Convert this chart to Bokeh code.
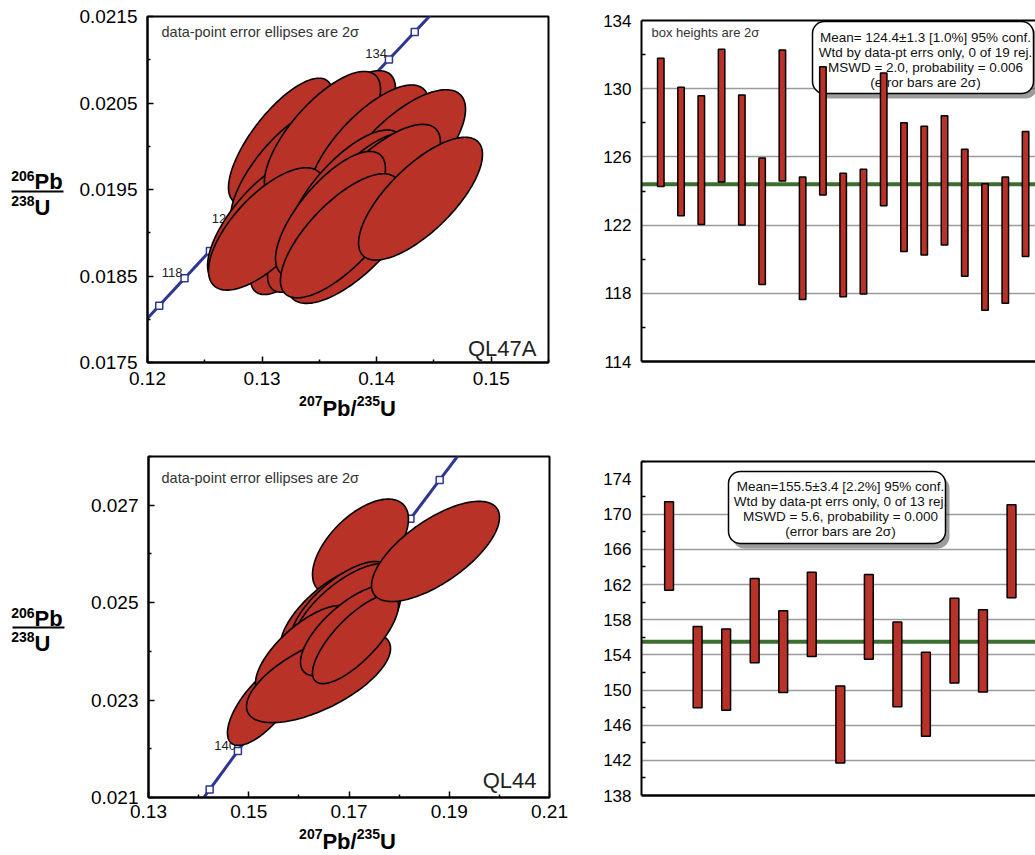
import numpy as np
from bokeh.plotting import figure
from bokeh.models import Range1d, Label, Span, LinearAxis, FixedTicker, PrintfTickFormatter
from bokeh.layouts import column, row
from bokeh.embed import file_html
from bokeh.resources import INLINE
from bokeh.core.properties import value

FONT = "Liberation Sans"
RED = "#b83227"
NAVY = "#2d3792"
GREEN = "#3c6e30"
GRID = "#9b9b9b"

LAMBDA_238 = 1.55125e-4   # 1/Ma
LAMBDA_235 = 9.8485e-4    # 1/Ma
K95 = 2.4477 / 2.0        # 2-sigma box -> 95% conf. 2-D ellipse

# ---------------- QL47A ----------------
ql47a_pb207_u235 = [0.13161, 0.13335, 0.13205, 0.13658, 0.13597, 0.13004, 0.13527, 0.13335, 0.13929, 0.13466,
                    0.13039, 0.14208, 0.13728, 0.13859, 0.14007, 0.13597, 0.13772, 0.13684, 0.14383]
ql47a_pb207_u235_2s = [0.00371, 0.00392, 0.00392, 0.00414, 0.00392, 0.00392, 0.00414, 0.00357, 0.00428, 0.00342,
                       0.00414, 0.00464, 0.00414, 0.00414, 0.00449, 0.00392, 0.00449, 0.00428, 0.00442]
ql47a_pb206_u238 = [0.020060, 0.019787, 0.019710, 0.020121, 0.019708, 0.019141, 0.020122, 0.018982, 0.019979, 0.019014,
                    0.019044, 0.019901, 0.019457, 0.019425, 0.019520, 0.019219, 0.018903, 0.018965, 0.019394]
ql47a_pb206_u238_2s = [0.000594, 0.000596, 0.000597, 0.000615, 0.000604, 0.000588, 0.000607, 0.000569, 0.000596, 0.000573,
                       0.000578, 0.000615, 0.000597, 0.000598, 0.000599, 0.000589, 0.000588, 0.000586, 0.000580]
ql47a_rho = [0.74, 0.72, 0.72, 0.72, 0.72, 0.72, 0.72, 0.72, 0.72, 0.72,
             0.68, 0.70, 0.72, 0.72, 0.72, 0.72, 0.70, 0.72, 0.72]
ql47a_age_hi = [131.78, 130.08, 129.59, 132.31, 129.63, 125.94, 132.27, 124.82, 131.29, 125.04,
                125.27, 130.92, 128.00, 127.80, 128.41, 126.45, 124.43, 124.82, 127.49]
ql47a_age_lo = [124.27, 122.55, 122.04, 124.53, 122.00, 118.51, 124.59, 117.63, 123.76, 117.80,
                117.96, 123.14, 120.45, 120.24, 120.84, 119.00, 117.00, 117.41, 120.16]
ql47a_mean = 124.4
ql47a_marks = [116, 118, 120, 122, 124, 126, 128, 130, 132, 134, 136]
ql47a_mark_labels = [118, 122, 126, 130, 134]
ql47a_box = ["Mean= 124.4\u00b11.3 [1.0%] 95% conf.",
             "Wtd by data-pt errs only, 0 of 19 rej.",
             "MSWD = 2.0, probability = 0.006",
             "(error bars are 2\u03c3)"]
ql47a_xticks = [0.12, 0.13, 0.14, 0.15]
ql47a_xminor = [0.125, 0.135, 0.145, 0.155]
ql47a_yticks = [0.0175, 0.0185, 0.0195, 0.0205, 0.0215]
ql47a_yminor = [0.018, 0.019, 0.020, 0.021]
ql47a_age_ticks = [114, 118, 122, 126, 130, 134]
ql47a_age_minor = [116, 120, 124, 128, 132]

# ---------------- QL44 ----------------
ql44_pb207_u235 = [0.17229, 0.16132, 0.16032, 0.16631, 0.16731, 0.16830, 0.15294, 0.16930, 0.16132, 0.16392,
                   0.17030, 0.17130, 0.18726]
ql44_pb207_u235_2s = [0.00782, 0.00734, 0.00734, 0.00815, 0.00815, 0.00815, 0.00587, 0.00848, 0.00815, 0.01174,
                      0.00815, 0.00701, 0.01043]
ql44_pb206_u238 = [0.026146, 0.023956, 0.023910, 0.024795, 0.024237, 0.024910, 0.022920, 0.024864, 0.024006, 0.023465,
                   0.024435, 0.024250, 0.026052]
ql44_pb206_u238_2s = [0.000801, 0.000736, 0.000732, 0.000763, 0.000739, 0.000763, 0.000695, 0.000767, 0.000766, 0.000759,
                      0.000766, 0.000745, 0.000840]
ql44_rho = [0.58, 0.70, 0.70, 0.70, 0.70, 0.70, 0.70, 0.70, 0.70, 0.64, 0.70, 0.76, 0.68]
ql44_age_hi = [171.41, 157.24, 156.93, 162.69, 159.03, 163.41, 150.46, 163.14, 157.73, 154.30, 160.44, 159.14, 171.07]
ql44_age_lo = [161.35, 147.98, 147.71, 153.09, 149.73, 153.81, 141.70, 153.50, 148.10, 144.74, 150.80, 149.77, 160.51]
ql44_mean = 155.5
ql44_marks = [135, 140, 145, 150, 155, 160, 165, 170, 175]
ql44_mark_labels = [140, 150, 160, 170]
ql44_box = ["Mean=155.5\u00b13.4 [2.2%] 95% conf.",
            "Wtd by data-pt errs only, 0 of 13 rej.",
            "MSWD = 5.6, probability = 0.000",
            "(error bars are 2\u03c3)"]
ql44_xticks = [0.13, 0.15, 0.17, 0.19, 0.21]
ql44_xminor = [0.14, 0.16, 0.18, 0.20]
ql44_yticks = [0.021, 0.023, 0.025, 0.027]
ql44_yminor = [0.022, 0.024, 0.026, 0.028]
ql44_age_ticks = [138, 142, 146, 150, 154, 158, 162, 166, 170, 174]
ql44_age_minor = [140, 144, 148, 152, 156, 160, 164, 168, 172, 176]

# ---------------- geometry (frame position on page, ranges) ----------------
G1 = dict(fx=147, fy=16, fw=401, fh=346, xr=(0.12, 0.155), yr=(0.0175, 0.0215))
G2 = dict(fx=641, fy=20, fw=394, fh=341, xr=(0.048, 19.49), yr=(114, 134))
G3 = dict(fx=148, fy=456, fw=401, fh=341, xr=(0.13, 0.21), yr=(0.021, 0.028))
G4 = dict(fx=641, fy=461, fw=394, fh=334, xr=(0.034, 13.84), yr=(138, 176))

TEXT_SHIFT = 5  # svg text baseline correction in the label panels


def to_data(g, px, py):
    x = g["xr"][0] + (px - g["fx"]) / g["fw"] * (g["xr"][1] - g["xr"][0])
    y = g["yr"][1] - (py - g["fy"]) / g["fh"] * (g["yr"][1] - g["yr"][0])
    return x, y


def make_fig(g, pos_x, pos_y, width, height):
    left = g["fx"] - pos_x
    top = g["fy"] - pos_y
    right = width - left - g["fw"]
    bottom = height - top - g["fh"]
    p = figure(width=width, height=height, x_range=Range1d(*g["xr"]), y_range=Range1d(*g["yr"]),
               output_backend="svg", toolbar_location=None,
               min_border_left=left, min_border_top=top, min_border_right=right, min_border_bottom=bottom)
    p.frame_align = False
    p.background_fill_color = "white"
    p.border_fill_color = "white"
    return p


def text_fig(width, height):
    p = figure(width=width, height=height, x_range=Range1d(0, width), y_range=Range1d(height, 0),
               x_axis_type=None, y_axis_type=None, output_backend="svg", toolbar_location=None,
               min_border=0, min_border_left=0, min_border_right=0, min_border_top=0, min_border_bottom=0)
    p.frame_align = False
    p.outline_line_color = None
    p.background_fill_color = "white"
    p.border_fill_color = "white"
    return p


def ttext(p, x, y, s, size, bold=True, align="left"):
    p.text([x], [y - TEXT_SHIFT], text=[s], text_align=align, text_baseline="alphabetic",
           text_font=value(FONT), text_font_size=f"{size}px",
           text_font_style="bold" if bold else "normal", text_color="black")


def y_fraction_fig(width, height, split_x, top_base, bot_base, line_y, x0, x1):
    p = text_fig(width, height)
    ttext(p, split_x, top_base - 6, "206", 14, align="right")
    ttext(p, split_x, top_base, "Pb", 22)
    ttext(p, split_x, bot_base - 7, "238", 14, align="right")
    ttext(p, split_x, bot_base, "U", 22)
    p.line([x0, x1], [line_y, line_y], line_color="black", line_width=2)
    return p


def x_label_fig(width, height, cx, base):
    p = text_fig(width, height)
    w_sup = 3 * 0.556 * 14
    w_pb = (0.667 + 0.611 + 0.278) * 22
    w_u = 0.722 * 22
    x0 = cx - (2 * w_sup + w_pb + w_u) / 2
    ttext(p, x0, base - 8, "207", 14)
    ttext(p, x0 + w_sup, base, "Pb/", 22)
    ttext(p, x0 + w_sup + w_pb, base - 8, "235", 14)
    ttext(p, x0 + 2 * w_sup + w_pb, base, "U", 22)
    return p


def style_axis(ax, ticks, minor, fmt, size, standoff, tick_in, minor_in):
    ax.ticker = FixedTicker(ticks=ticks, minor_ticks=minor)
    ax.formatter = PrintfTickFormatter(format=fmt)
    ax.axis_line_width = 2
    ax.axis_line_color = "black"
    ax.major_tick_in = tick_in
    ax.major_tick_out = 0
    ax.minor_tick_in = minor_in
    ax.minor_tick_out = 0
    ax.major_tick_line_width = 1.5
    ax.minor_tick_line_width = 1.5
    ax.major_tick_line_color = "black"
    ax.minor_tick_line_color = "black"
    ax.major_label_text_font = FONT
    ax.major_label_text_font_size = size
    ax.major_label_text_color = "black"
    ax.major_label_standoff = standoff


def label(p, g, px, py, text, size, bold=False, align="left", baseline="alphabetic", color="black"):
    x, y = to_data(g, px, py)
    p.add_layout(Label(x=x, y=y, text=text, text_font=FONT, text_font_size=f"{size}px",
                       text_font_style="bold" if bold else "normal", text_align=align,
                       text_baseline=baseline, text_color=color))


def concordia(t):
    t = np.asarray(t, dtype=float)
    return np.exp(LAMBDA_235 * t) - 1.0, np.exp(LAMBDA_238 * t) - 1.0


def ellipse(cx, ex, cy, ey, rho, n=160):
    th = np.linspace(0, 2 * np.pi, n)
    a = K95 * ex
    b = K95 * ey
    xs = cx + a * np.cos(th)
    ys = cy + b * (rho * np.cos(th) + np.sqrt(1 - rho ** 2) * np.sin(th))
    return list(xs), list(ys)


def concordia_plot(g, pos, size, xt, xm, xfmt, yt, ym, yfmt, marks, mark_labels,
                   xc, xe, yc, ye, rho, name, name_pos, note_pos, x_standoff):
    p = make_fig(g, pos[0], pos[1], size[0], size[1])
    p.grid.visible = False
    p.outline_line_color = "black"
    p.outline_line_width = 2
    style_axis(p.xaxis[0], xt, xm, xfmt, "19px", x_standoff, 6, 3)
    style_axis(p.yaxis[0], yt, ym, yfmt, "19px", 10, 6, 3)

    t_curve = np.linspace(90, 210, 241)
    cx_, cy_ = concordia(t_curve)
    p.line(cx_, cy_, line_color=NAVY, line_width=3)
    mx, my = concordia(marks)
    p.scatter(mx, my, marker="square", size=7, fill_color="white", line_color=NAVY, line_width=1.5)
    lx, ly = concordia(mark_labels)
    p.text(lx, ly, text=[str(v) for v in mark_labels], x_offset=-2, y_offset=-1,
           text_align="right", text_baseline="bottom", text_font=value(FONT),
           text_font_size="13px", text_color="#222222")

    xs_all, ys_all = [], []
    for i in range(len(xc)):
        xs, ys = ellipse(xc[i], xe[i], yc[i], ye[i], rho[i])
        xs_all.append(xs)
        ys_all.append(ys)
    p.patches(xs_all, ys_all, fill_color=RED, line_color="black", line_width=1.6)

    label(p, g, note_pos[0], note_pos[1], "data-point error ellipses are 2\u03c3", 14.5,
          baseline="middle", color="#333333")
    label(p, g, name_pos[0], name_pos[1], name, 22, align="right", color="#222222")
    return p


def bar_plot(g, pos, size, hi, lo, mean, ticks, minor, box_lines, box, text_cx, text_ys, note, bar_w):
    p = make_fig(g, pos[0], pos[1], size[0], size[1])
    p.outline_line_color = None
    p.xgrid.visible = False
    p.ygrid.ticker = FixedTicker(ticks=ticks[1:-1])
    p.ygrid.grid_line_color = GRID
    p.ygrid.grid_line_width = 1.5
    style_axis(p.yaxis[0], ticks, minor, "%d", "17px", 10, 0, 4)
    xa = p.xaxis[0]
    xa.ticker = FixedTicker(ticks=[])
    xa.axis_line_width = 2.5
    xa.axis_line_color = "black"
    xa.major_tick_out = 0
    xa.minor_tick_out = 0
    xa.major_label_text_font_size = "0px"
    top_axis = LinearAxis(ticker=FixedTicker(ticks=[]), axis_line_width=2, axis_line_color="black",
                          major_tick_out=0, minor_tick_out=0, major_label_text_font_size="0px",
                          major_label_standoff=0)
    p.add_layout(top_axis, "above")

    p.add_layout(Span(location=mean, dimension="width", line_color=GREEN, line_width=4, level="underlay"))

    l, t, r, b = box
    x0, y0 = to_data(g, l, t)
    x1, y1 = to_data(g, r, b)
    sx0, sy0 = to_data(g, l + 4, t + 5)
    sx1, sy1 = to_data(g, r + 4, b + 5)
    p.quad(left=sx0, right=sx1, top=sy0, bottom=sy1, fill_color="#4a4a4a", fill_alpha=0.55,
           line_color=None, border_radius=12)
    p.quad(left=x0, right=x1, top=y0, bottom=y1, fill_color="white", line_color="black",
           line_width=1.5, border_radius=12)
    txs, tys = [], []
    for py in text_ys:
        tx, ty = to_data(g, text_cx, py)
        txs.append(tx)
        tys.append(ty)
    p.text(txs, tys, text=box_lines, text_align="center", text_baseline="middle",
           text_font=value(FONT), text_font_size="13.5px", text_color="#111111")

    idx = list(range(1, len(hi) + 1))
    p.vbar(x=idx, bottom=lo, top=hi, width=bar_w, fill_color=RED, line_color="black", line_width=1.5)
    if note:
        label(p, g, note[0], note[1], "box heights are 2\u03c3", 13, baseline="middle", color="#333333")
    return p


# ---- top row (y 0..440) ----
yl1 = y_fraction_fig(70, 440, 34, 186, 212, 191, 11, 63)
p1 = concordia_plot(G1, (70, 0), (530, 394), ql47a_xticks, ql47a_xminor, "%.2f",
                    ql47a_yticks, ql47a_yminor, "%.4f", ql47a_marks, ql47a_mark_labels,
                    ql47a_pb207_u235, ql47a_pb207_u235_2s, ql47a_pb206_u238, ql47a_pb206_u238_2s, ql47a_rho,
                    "QL47A", (536, 348), (161, 31), 9)
xl1 = x_label_fig(530, 46, 347 - 70, 413 - 394)
p2 = bar_plot(G2, (600, 0), (435, 440), ql47a_age_hi, ql47a_age_lo, ql47a_mean,
              ql47a_age_ticks, ql47a_age_minor, ql47a_box, (812, 21, 1033, 93), 925, [37, 52, 67, 82],
              (651, 32), 0.32)

# ---- bottom row (y 440..855) ----
yl3 = y_fraction_fig(70, 415, 34, 623 - 440, 648 - 440, 627 - 440, 12, 64)
p3 = concordia_plot(G3, (70, 440), (530, 386), ql44_xticks, ql44_xminor, "%.2f",
                    ql44_yticks, ql44_yminor, "%.3f", ql44_marks, ql44_mark_labels,
                    ql44_pb207_u235, ql44_pb207_u235_2s, ql44_pb206_u238, ql44_pb206_u238_2s, ql44_rho,
                    "QL44", (536, 780), (161, 477), 7)
xl3 = x_label_fig(530, 29, 347 - 70, 846 - 826)
p4 = bar_plot(G4, (600, 440), (435, 415), ql44_age_hi, ql44_age_lo, ql44_mean,
              ql44_age_ticks, ql44_age_minor, ql44_box, (728, 471, 945, 543), 840, [486, 501, 516, 531],
              None, 0.31)

top_row = row(yl1, column(p1, xl1, spacing=0), p2, spacing=0)
bottom_row = row(yl3, column(p3, xl3, spacing=0), p4, spacing=0)
layout = column(top_row, bottom_row, spacing=0)
open("out.html", "w").write(file_html(layout, INLINE))
